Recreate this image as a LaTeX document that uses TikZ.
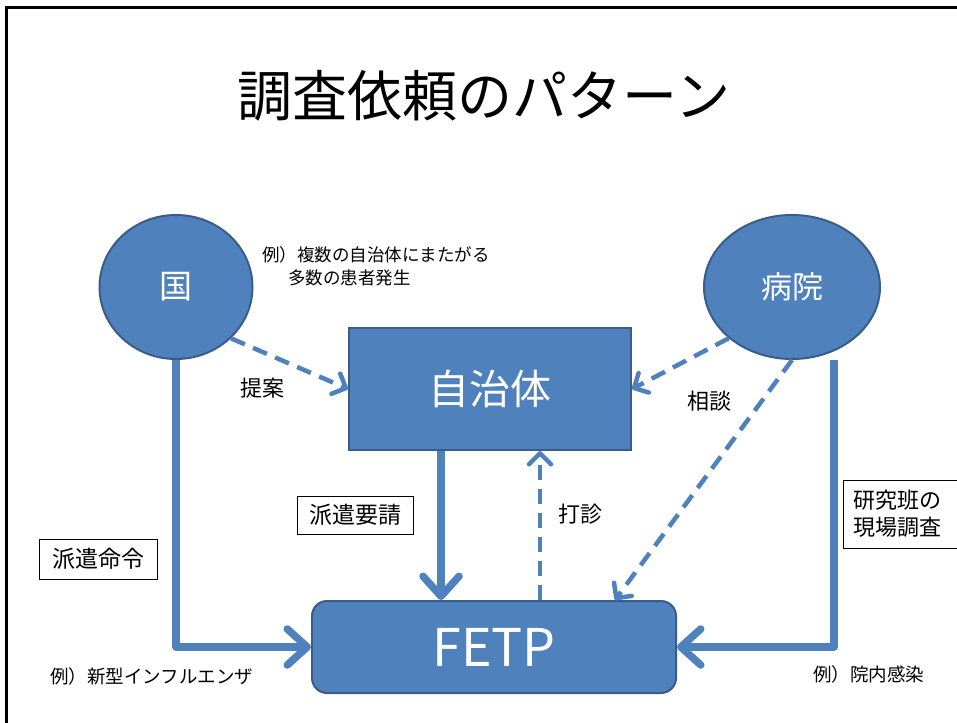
\documentclass[tikz,border=0pt]{standalone}
\usepackage{fontspec}
\setmainfont{Noto Sans CJK JP}
\usetikzlibrary{shapes.geometric,arrows.meta}
\definecolor{ofblue}{HTML}{4F81BD}
\definecolor{ofborder}{HTML}{385D8A}
\tikzset{
  blob/.style={fill=ofblue,draw=ofborder,line width=2pt,text=white,inner sep=0pt},
  link/.style={ofblue,line width=7.5pt,line join=round,-{Straight Barb[round,length=20pt,width=36pt]}},
  hint/.style={ofblue,line width=4.5pt,dash pattern=on 15pt off 9pt,-{Straight Barb[round,length=11pt,width=22pt]}},
  tag/.style={draw,line width=1pt,inner sep=0pt,font=\fontsize{23}{27}\selectfont},
  note/.style={inner sep=0pt,font=\fontsize{18.5}{23}\selectfont}
}
\begin{document}
\begin{tikzpicture}[x=1pt,y=-1pt]
\clip (0,0) rectangle (957,722);
\draw[line width=3pt] (6.5,740) -- (6.5,7.5) -- (970,7.5);
\node[font=\fontsize{55}{60}\selectfont] (title) at (484,96) {調査依頼のパターン};

\node[blob,ellipse,minimum width=153pt,minimum height=144pt,font=\fontsize{33}{36}\selectfont] (kuni) at (176,287) {国};
\node[blob,ellipse,minimum width=176pt,minimum height=144pt,font=\fontsize{31}{36}\selectfont] (byoin) at (792,287) {病院};
\node[blob,rectangle,minimum width=282pt,minimum height=122pt,font=\fontsize{41}{44}\selectfont] (jichitai) at (490,389) {自治体};
\node[blob,rectangle,rounded corners=15pt,minimum width=364pt,minimum height=92pt,font=\fontsize{52}{56}\selectfont] (fetp) at (494,647) {FETP};

\coordinate (haken) at ([xshift=-49pt]jichitai.south);
\coordinate (dashin) at ([xshift=50pt]jichitai.south);
\coordinate (genba) at ([xshift=42pt]byoin.south);
\coordinate (soudan) at ([xshift=121pt]fetp.north);

\draw[link] (kuni.south) |- (fetp.west);
\draw[link] (genba) |- (fetp.east);
\draw[link] (haken) -- (haken |- fetp.north);
\draw[hint] (dashin |- fetp.north) -- (dashin);
\draw[hint] (kuni.-43) -- (jichitai.west);
\draw[hint] (byoin.-141) -- (jichitai.east);
\draw[hint] (byoin.south) -- (soudan);

\foreach \n/\x/\y/\txt in {teian/262/388/提案, soudanlbl/709/401/相談, dashinlbl/580/514/打診}
  \node[note,font=\fontsize{22}{26}\selectfont] (\n) at (\x,\y) {\txt};

\node[tag,minimum width=116pt,minimum height=38pt] (yousei) at (355,515) {派遣要請};
\node[tag,minimum width=118pt,minimum height=40pt] (meirei) at (98,559) {派遣命令};
\node[tag,anchor=west,minimum height=68pt,text width=115pt,inner xsep=10pt,align=left,font=\fontsize{22}{27}\selectfont] (kenkyu) at (843,514) {研究班の\\現場調査};

\node[note,anchor=west,align=left,font=\fontsize{17.5}{23}\selectfont] (rei1) at (262,266) {例）複数の自治体にまたがる\\\hspace*{1.5em}多数の患者発生};
\node[note,anchor=west] (rei2) at (50,676) {例）新型インフルエンザ};
\node[note,anchor=west] (rei3) at (813,674) {例）院内感染};
\end{tikzpicture}
\end{document}
